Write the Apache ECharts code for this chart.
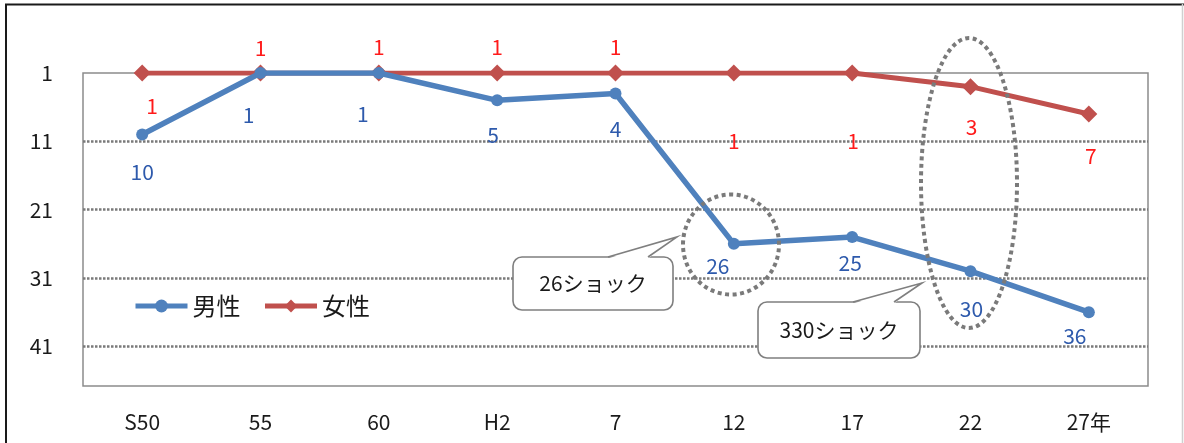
<!DOCTYPE html>
<html><head><meta charset="utf-8">
<script src="https://cdn.jsdelivr.net/npm/echarts@6/dist/echarts.min.js"></script>
<style>html,body{margin:0;padding:0;background:#fff}#c{width:1184px;height:443px}</style>
</head><body><div id="c"></div>
<script>
// ---- data ----
const categories = ['S50', '55', '60', 'H2', '7', '12', '17', '22', '27年'];
const male   = [10, 1, 1, 5, 4, 26, 25, 30, 36];
const female = [1, 1, 1, 1, 1, 1, 1, 3, 7];
const yTicks = [1, 11, 21, 31, 41];
// ---- label placement (style only) ----
const maleOff   = [[0,38],[-12,42],[-16,41],[-4,35],[0,36],[-16,22],[-2,26],[1,38],[-14,24]];
const femaleOff = [[10,33],[0,-25],[0,-26],[0,-26],[0,-26],[0,68],[1,68],[1,40],[2,42]];

const FONT = "'Noto Sans CJK JP','Noto Sans',sans-serif";
const chart = echarts.init(document.getElementById('c'), null, {renderer:'canvas'});

function items(vals, offs, color) {
  return vals.map((v, i) => ({
    value: v,
    label: { show: true, position: 'inside', offset: offs[i], color: color,
             fontSize: 21, fontFamily: FONT, formatter: '{c}' }
  }));
}

function callout(x, y, w, h, b1, b2, tip, text) {
  return [
    { type: 'rect', z: 100, shape: { x: x, y: y, width: w, height: h, r: 9 },
      style: { fill: '#fff', stroke: '#7f7f7f', lineWidth: 1.6 } },
    { type: 'polygon', z: 101, shape: { points: [[b1, y + 1.5], tip, [b2, y + 1.5]] },
      style: { fill: '#fff', stroke: null } },
    { type: 'polyline', z: 102, shape: { points: [[b1, y], tip, [b2, y]] },
      style: { fill: null, stroke: '#7f7f7f', lineWidth: 1.6 } },
    { type: 'text', z: 103, style: { text: text, x: x + w / 2, y: y + h / 2, align: 'center',
      verticalAlign: 'middle', fontSize: 21, fontFamily: FONT, fill: '#1a1a1a' } }
  ];
}

const option = {
  animation: false,
  backgroundColor: '#fff',
  grid: { left: 83, right: 36, top: 73, bottom: 57, show: true,
          borderColor: '#8c8c8c', borderWidth: 1.5, backgroundColor: 'transparent' },
  legend: {
    left: 128, top: 289, itemWidth: 52, itemHeight: 16, itemGap: 22,
    lineStyle: { width: 5 },
    textStyle: { fontSize: 24, fontFamily: FONT, color: '#1a1a1a' },
    data: ['男性', '女性']
  },
  xAxis: {
    type: 'category', data: categories, boundaryGap: true,
    axisLine: { show: false, onZero: false }, axisTick: { show: false },
    axisLabel: { fontSize: 21, fontFamily: FONT, color: '#1a1a1a', margin: 26 }
  },
  yAxis: {
    type: 'value', inverse: true, min: yTicks[0], max: 46.8, interval: yTicks[1] - yTicks[0],
    axisLine: { show: false }, axisTick: { show: false },
    axisLabel: { fontSize: 21, fontFamily: FONT, color: '#1a1a1a', margin: 30, showMaxLabel: false },
    splitLine: { show: true, showMinLine: false, showMaxLine: false,
                 lineStyle: { color: '#7a7a7a', type: [2.5, 1.5], width: 2.5 } }
  },
  series: [
    { name: '男性', type: 'line', data: items(male, maleOff, '#2e5aac'),
      symbol: 'circle', symbolSize: 12, z: 3,
      itemStyle: { color: '#4f81bd' }, lineStyle: { color: '#4f81bd', width: 5.5 } },
    { name: '女性', type: 'line', data: items(female, femaleOff, '#ff1a1a'),
      symbol: 'diamond', symbolSize: 17, z: 2,
      itemStyle: { color: '#c0504d' }, lineStyle: { color: '#c0504d', width: 5 } }
  ],
  graphic: [
    // outer chart frame
    { type: 'line', z: 50, shape: { x1: 5, y1: 4.5, x2: 1184, y2: 4.5 }, style: { stroke: '#1a1a1a', lineWidth: 2 } },
    { type: 'line', z: 50, shape: { x1: 6, y1: 4, x2: 6, y2: 443 }, style: { stroke: '#1a1a1a', lineWidth: 2 } },
    { type: 'line', z: 50, shape: { x1: 1182.5, y1: 4, x2: 1182.5, y2: 443 }, style: { stroke: '#d0d0d0', lineWidth: 1.5 } },
    // dotted highlight ellipses
    { type: 'ellipse', z: 90, shape: { cx: 731, cy: 244.5, rx: 48, ry: 50 },
      style: { fill: null, stroke: '#7a7a7a', lineWidth: 4, lineDash: [4, 3.5] } },
    { type: 'ellipse', z: 90, shape: { cx: 969, cy: 183, rx: 48, ry: 145 },
      style: { fill: null, stroke: '#7a7a7a', lineWidth: 4, lineDash: [4, 3.5] } }
  ].concat(
    callout(513, 257, 160, 53, 608, 648, [677, 237], '26ショック'),
    callout(758, 302, 162, 56, 853, 894, [922, 283], '330ショック')
  )
};
chart.setOption(option);
</script></body></html>
